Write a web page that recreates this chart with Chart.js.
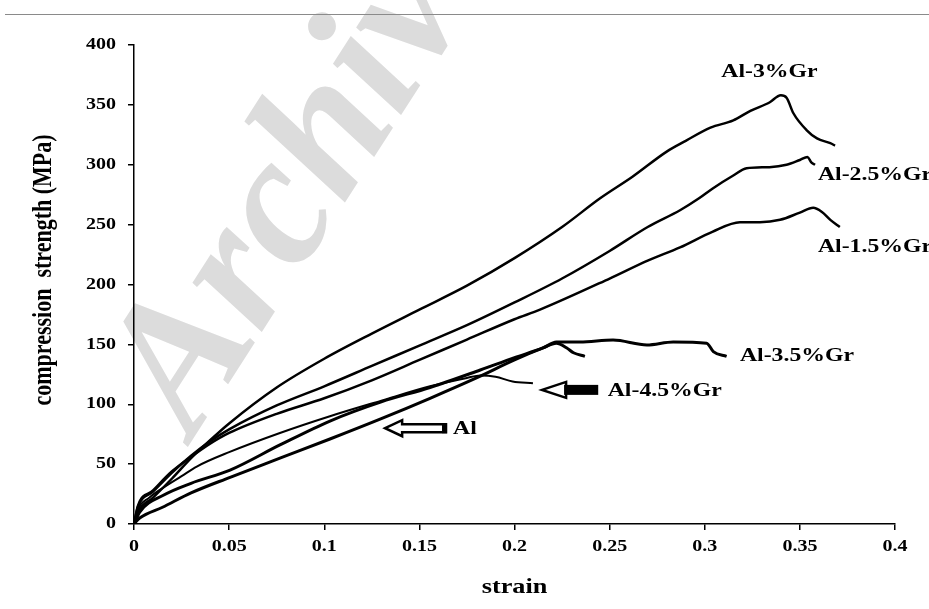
<!DOCTYPE html>
<html lang="en">
<head>
<meta charset="UTF-8">
<title>Compression strength vs strain</title>
<script src="https://cdn.jsdelivr.net/npm/chart.js"></script>
<style>
  body { margin: 0; background: #fff; }
  #wrap { position: absolute; left: 0; top: 0; width: 929px; height: 609px; }
  #topLine { position: absolute; left: 5px; right: 0; top: 14px; height: 1px; background: #8a8a8a; }
</style>
</head>
<body>
<div id="wrap"><canvas id="myChart" width="929" height="609"></canvas></div>
<div id="topLine"></div>
<script>
  // tick values / labels
  const xTickValues = [0, 0.05, 0.1, 0.15, 0.2, 0.25, 0.3, 0.35, 0.4];
  const xTickLabels = ['0', '0.05', '0.1', '0.15', '0.2', '0.25', '0.3', '0.35', '0.4'];
  const yTickValues = [0, 50, 100, 150, 200, 250, 300, 350, 400];
  const xTitle = 'strain';
  const yTitle = 'compression  strength (MPa)';

  // curves (strain, MPa)
  const strainAl3 = [0, 0.002, 0.01, 0.02, 0.03, 0.04, 0.05, 0.075, 0.1, 0.125, 0.15, 0.175, 0.2, 0.225, 0.245, 0.262, 0.28, 0.29, 0.303, 0.315, 0.324, 0.334, 0.34, 0.343, 0.3466, 0.3535, 0.359, 0.366, 0.3685];
  const stressAl3 = [0, 10, 22, 38, 55, 70, 84, 114, 138, 159, 179, 199, 222, 248, 272, 290, 311, 320, 331, 337, 345, 352, 358, 356, 343, 329, 322, 318, 316];

  const strainAl25 = [0, 0.002, 0.01, 0.02, 0.03, 0.04, 0.05, 0.075, 0.1, 0.125, 0.15, 0.175, 0.2, 0.225, 0.25, 0.27, 0.287, 0.297, 0.304, 0.315, 0.322, 0.334, 0.343, 0.35, 0.354, 0.356, 0.358];
  const stressAl25 = [0, 14, 27, 43, 57, 69, 79, 99, 115, 132, 149, 166, 185, 205, 228, 248, 262, 272, 280, 291, 297, 298, 300, 304, 306.5, 302, 300];

  const strainAl15 = [0, 0.002, 0.01, 0.02, 0.03, 0.04, 0.05, 0.075, 0.1, 0.125, 0.15, 0.175, 0.2, 0.2134, 0.25, 0.27, 0.287, 0.304, 0.3185, 0.329, 0.3396, 0.35, 0.357, 0.3616, 0.366, 0.371];
  const stressAl15 = [0, 15, 28, 44, 56, 67, 76, 92, 105, 120, 137, 154, 171, 179, 205, 220, 231, 244, 252, 252, 254, 260, 264, 260.5, 254, 248];

  const strainAl45 = [0, 0.002, 0.008, 0.015, 0.025, 0.033, 0.05, 0.0767, 0.103, 0.13, 0.1556, 0.175, 0.182, 0.19, 0.199, 0.2097];
  const stressAl45 = [0, 12, 22, 30, 40, 48, 60, 76, 90, 103, 115, 122, 124, 123, 119, 117.5];

  const strainAl35 = [0, 0.003, 0.0154, 0.03, 0.0505, 0.0767, 0.103, 0.13, 0.1556, 0.182, 0.2, 0.215, 0.222, 0.2344, 0.2518, 0.2696, 0.2834, 0.301, 0.3045, 0.3115];
  const stressAl35 = [0, 10, 24, 34, 45, 66, 86, 102, 114, 128.6, 139, 147, 152, 152, 153.6, 149.5, 152, 151, 144, 140];

  const strainAl = [0, 0.003, 0.015, 0.03, 0.0505, 0.0767, 0.103, 0.13, 0.1556, 0.18, 0.2, 0.215, 0.222, 0.2275, 0.231, 0.237];
  const stressAl = [0, 5, 14, 26, 39, 55, 71, 88, 105, 122, 137, 147, 151, 147, 143, 140];

  // curve labels: text, strain, MPa, alignment
  const labelTexts = ['Al-3%Gr', 'Al-2.5%Gr', 'Al-1.5%Gr', 'Al-3.5%Gr', 'Al-4.5%Gr', 'Al'];
  const labelStrain = [0.334, 0.3595, 0.3595, 0.3185, 0.249, 0.1677];
  const labelStress = [377, 291, 231, 140, 111, 79];
  const labelAlign = ['center', 'left', 'left', 'left', 'left', 'left'];

  // arrows: tip and tail (strain, MPa)
  const arrowTipStrain = [0.2145, 0.132];
  const arrowTailStrain = [0.244, 0.164];
  const arrowStress = [112, 80];

  function pts(xs, ys) {
    return xs.map((x, i) => ({ x: x, y: ys[i] }));
  }

  function serie(xs, ys, w) {
    return {
      data: pts(xs, ys),
      borderColor: '#000',
      backgroundColor: '#000',
      borderWidth: w,
      pointRadius: 0,
      fill: false,
      cubicInterpolationMode: 'monotone'
    };
  }

  const serif = '"Liberation Serif", "Times New Roman", serif';
  const stretch = 1.25;   // the figure's text is a bit wide

  // text drawn wider than it is tall, like in the scanned figure
  function wideText(ctx, txt, x, y, align, size, rot) {
    ctx.save();
    ctx.translate(x, y);
    ctx.scale(stretch, 1);
    if (rot) ctx.rotate(rot);
    ctx.font = 'bold ' + size + 'px ' + serif;
    ctx.textAlign = align;
    ctx.textBaseline = 'middle';
    ctx.fillStyle = '#000';
    ctx.fillText(txt, 0, 0);
    ctx.restore();
  }

  // watermark, tick labels, titles, curve labels, arrows
  const extras = {
    id: 'extras',
    beforeDraw(chart) {
      const ctx = chart.ctx;
      ctx.save();
      ctx.translate(193, 439);
      ctx.rotate(-1.0);
      ctx.font = 'italic bold 185px ' + serif;
      ctx.fillStyle = '#dcdcdc';
      ctx.textBaseline = 'alphabetic';
      ctx.fillText('Archive', 0, 0);
      ctx.restore();
    },
    afterDatasetsDraw(chart) {
      const ctx = chart.ctx;
      const xs = chart.scales.x, ys = chart.scales.y;

      // tick labels
      xs.ticks.forEach((t, i) => {
        wideText(ctx, xTickLabels[i], xs.getPixelForValue(t.value), 547, 'center', 16);
      });
      ys.ticks.forEach(t => {
        wideText(ctx, String(t.value), 116, ys.getPixelForValue(t.value), 'right', 16);
      });

      // axis titles
      wideText(ctx, xTitle, (xs.left + xs.right) / 2, 588, 'center', 21);
      wideText(ctx, yTitle, 44, 270, 'center', 22, -Math.PI / 2);

      // curve labels
      for (let i = 0; i < labelTexts.length; i++) {
        wideText(ctx, labelTexts[i], xs.getPixelForValue(labelStrain[i]), ys.getPixelForValue(labelStress[i]), labelAlign[i], 19);
      }

      ctx.save();
      // arrow 0: hollow head, solid body
      let tx = xs.getPixelForValue(arrowTipStrain[0]);
      let ex = xs.getPixelForValue(arrowTailStrain[0]);
      let y = ys.getPixelForValue(arrowStress[0]);
      ctx.lineWidth = 2.5;
      ctx.strokeStyle = '#000';
      ctx.beginPath();
      ctx.moveTo(tx, y);
      ctx.lineTo(tx + 24, y - 8);
      ctx.lineTo(tx + 24, y + 8);
      ctx.closePath();
      ctx.fillStyle = '#fff';
      ctx.fill();
      ctx.stroke();
      ctx.fillStyle = '#000';
      ctx.fillRect(tx + 22, y - 5, ex - tx - 22, 10);

      // arrow 1: fully hollow
      tx = xs.getPixelForValue(arrowTipStrain[1]);
      ex = xs.getPixelForValue(arrowTailStrain[1]);
      y = ys.getPixelForValue(arrowStress[1]);
      ctx.beginPath();
      ctx.moveTo(tx, y);
      ctx.lineTo(tx + 17, y - 8);
      ctx.lineTo(tx + 17, y - 4);
      ctx.lineTo(ex, y - 4);
      ctx.lineTo(ex, y + 4);
      ctx.lineTo(tx + 17, y + 4);
      ctx.lineTo(tx + 17, y + 8);
      ctx.closePath();
      ctx.fillStyle = '#fff';
      ctx.fill();
      ctx.lineWidth = 2.5;
      ctx.stroke();
      ctx.fillStyle = '#000';
      ctx.fillRect(ex - 4, y - 5, 5, 10);
      ctx.restore();
    }
  };

  const config = {
    type: 'line',
    data: {
      datasets: [
        serie(strainAl3, stressAl3, 2.5),
        serie(strainAl25, stressAl25, 2.5),
        serie(strainAl15, stressAl15, 2.5),
        serie(strainAl45, stressAl45, 2),
        serie(strainAl35, stressAl35, 3),
        serie(strainAl, stressAl, 3)
      ]
    },
    options: {
      responsive: false,
      animation: false,
      layout: { padding: { left: 0, right: 34, top: 45, bottom: 0 } },
      plugins: { legend: { display: false }, tooltip: { enabled: false } },
      scales: {
        x: {
          type: 'linear',
          min: 0,
          max: 0.4,
          afterBuildTicks: s => { s.ticks = xTickValues.map(v => ({ value: v })); },
          afterFit: s => { s.height = 85; },
          grid: { drawOnChartArea: false, tickLength: 6, color: '#000', lineWidth: 1.5 },
          border: { color: '#000', width: 1.5 },
          ticks: { display: false }
        },
        y: {
          min: 0,
          max: 400,
          afterBuildTicks: s => { s.ticks = yTickValues.map(v => ({ value: v })); },
          afterFit: s => { s.width = 134; },
          grid: { drawOnChartArea: false, tickLength: 6, color: '#000', lineWidth: 1.5 },
          border: { color: '#000', width: 1.5 },
          ticks: { display: false }
        }
      }
    },
    plugins: [extras]
  };

  new Chart(document.getElementById('myChart'), config);
</script>
</body>
</html>
